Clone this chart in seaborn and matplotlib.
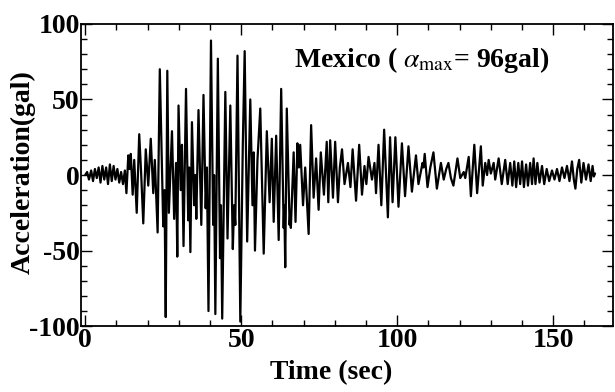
import numpy as np
import pandas as pd
import seaborn as sns
import matplotlib
matplotlib.use('Agg')
import matplotlib.pyplot as plt

# Mexico record - peaks and troughs
time_s = [
    0, 0.6, 1.2, 1.9, 2.5, 3.1, 3.7, 4.3, 4.9, 5.5, 6.1, 6.7, 7.3, 7.9, 8.5, 9.1,
    9.7, 10.3, 10.9, 11.5, 12.1, 12.7, 13.2,
    13.8, 14.2, 14.6, 15.2, 15.7, 16.5, 17.3, 17.9, 18.6, 19.4, 20.2, 21.0, 21.8,
    22.3, 23.2, 23.9, 25.0, 25.4, 25.8, 26.3, 26.8, 27.8, 28.5, 29.1, 29.5, 29.9,
    30.6, 31.0, 31.5, 32.3, 33.0, 33.3, 33.7, 34.2, 34.9, 35.3, 35.6, 36.3, 37.2,
    37.9, 38.6, 39.0, 39.5, 40.3, 41.0, 41.3, 41.7, 42.5, 43.2, 43.5, 43.9, 44.9,
    45.6, 46.5, 47.3, 47.7, 48.1, 48.8, 49.7, 50.5, 51.1, 51.9, 52.9, 53.6, 54.0,
    54.4, 55.2, 56.1, 57.2, 58.2, 59.1, 59.8, 60.4, 61.2, 62.0, 62.8, 63.6, 63.8,
    64.1, 64.6, 65.5, 65.7, 65.9, 66.8, 67.4, 68.0, 68.5, 68.9, 69.8, 70.5, 71.6,
    72.4, 73.2, 74.0, 74.8, 75.5, 76.5, 77.4, 77.9, 78.5, 79.4, 80.1, 81.0, 81.6,
    82.3, 83.1, 84.2, 85.0, 85.7, 86.8, 87.8, 88.7, 89.5, 90.1, 90.8, 91.9, 92.7,
    93.2, 94.0, 94.9, 95.8, 97.0, 97.7, 98.5, 99.4, 100.4, 101.5, 102.5, 103.6,
    104.7, 106.0, 106.8, 108.1, 108.4, 108.8, 109.7, 110.6, 111.6, 112.7, 114.0,
    114.9, 115.7, 116.4, 117.2, 118.0, 119.3, 120.2, 121.3, 121.8, 122.9, 123.6,
    124.7, 125.6, 126.8, 127.4, 128.2, 128.8, 129.3, 130.0, 130.9, 131.4, 132.5,
    133.5, 134.6, 135.4, 136.2, 136.9, 137.5, 138.1, 138.8, 139.4, 140.0, 140.6,
    141.3, 141.9, 142.6, 143.2, 143.7, 144.3, 144.9, 145.6, 146.4, 147.1, 147.9,
    148.7, 149.6, 150.4, 151.2, 152.0, 152.8, 153.6, 154.4, 155.2, 156.0, 156.6,
    157.1, 157.7, 158.3, 159.0, 159.7, 160.5, 161.3, 162.0, 162.6, 163.0, 163.4,
]
accel_gal = [
    0, 2, -3, 3, -4, 4, -2, 5, -5, 6, -3, 5, -6, 7, -4, 6,
    -3, 4, -5, 2, -6, 3, -12,
    13, 4, 14, -13, 10, -25, 27, 2, -32, 17, -7, 24, -12,
    10, -38, 70, -34, -10, -94, 69, -25, 29, -29, 8, -54, 46,
    -10, 20, -47, 57, -30, 5, -51, 35, -20, 0, -29, 43, -33,
    53, -22, 5, -90, 89, -33, 0, -92, 77, -55, -20, -95, 55,
    -42, 46, -49, -20, -33, 79, -97, 20, 82, -44, 50, -20, 15,
    -50, 10, 44, -52, 29, -18, 24, -31, 26, -43, 57, -35, -20,
    -61, 44, -33, -25, -35, 15, -31, 21, 5, 20, -20, 5, -39,
    33, -15, 11, -23, 15, -13, 22, -18, 23, -15, 22, -18, 5,
    17, -6, 8, -8, 17, -17, 20, -13, 6, -6, 12, -3, 8,
    -12, 20, -20, 30, -28, 25, -18, 25, -21, 21, -14, 19,
    -11, 13, -6, 8, 5, 14, -8, 5, 15, -9, 8,
    -3, 4, 8, -2, -7, 11, -2, 2, -2, 12, -14,
    20, -12, 19, -7, 8, 0, 10, 1, 8, -3, 11,
    -6, 10, -6, 8, -7, 9, -8, 8, -6, 9, -8,
    7, -7, 8, -6, 11, -6, 8, -5, 6, -6, 4,
    -4, 3, -3, 4, -4, 5, -2, 6, -4, 9, -3,
    -9, 4, 10, -5, 8, -3, 7, -4, 6, -1, 1,
]

x_ticks = [0, 50, 100, 150]
y_ticks = [-100, -50, 0, 50, 100]

df = pd.DataFrame({"time": time_s, "acc": accel_gal})

sns.set_style("ticks")
plt.rcParams['font.family'] = ['Liberation Serif', 'DejaVu Serif']
plt.rcParams['mathtext.fontset'] = 'stix'
plt.rcParams['axes.unicode_minus'] = False
plt.rcParams['text.color'] = 'black'
plt.rcParams['axes.labelcolor'] = 'black'

fig, ax = plt.subplots(figsize=(6.15, 3.92), dpi=100)
fig.subplots_adjust(left=0.132, right=0.997, bottom=0.168, top=0.939)

sns.lineplot(data=df, x="time", y="acc", color="black", linewidth=1.6,
             estimator=None, sort=False, ax=ax)

ax.set_xlim(-1.3, 169.2)
ax.set_ylim(-100, 100)
ax.set_xticks(x_ticks)
ax.set_yticks(y_ticks)
ax.set_xticks(np.arange(0, 170, 10), minor=True)
ax.set_yticks(np.arange(-100, 101, 10), minor=True)
ax.tick_params(which='both', direction='in', top=True, right=True,
               colors='black', labelcolor='black', width=1.0)
ax.tick_params(which='major', length=8, labelsize=20, pad=1)
ax.tick_params(which='minor', length=4)
for lab in ax.get_xticklabels() + ax.get_yticklabels():
    lab.set_fontweight('bold')
for sp in ax.spines.values():
    sp.set_linewidth(1.3)
    sp.set_color('black')

ax.set_xlabel("Time (sec)", fontsize=20, fontweight='bold')
ax.set_ylabel("Acceleration(gal)", fontsize=20, fontweight='bold')
ax.xaxis.set_label_coords(0.47, -0.112)
ax.yaxis.set_label_coords(-0.085, 0.51)

ax.text(108, 76, r"Mexico ( $\alpha_{\rm max}$= 96gal)", fontsize=20,
        fontweight='bold', ha='center', va='center')

fig.savefig("out.png", dpi=100)
